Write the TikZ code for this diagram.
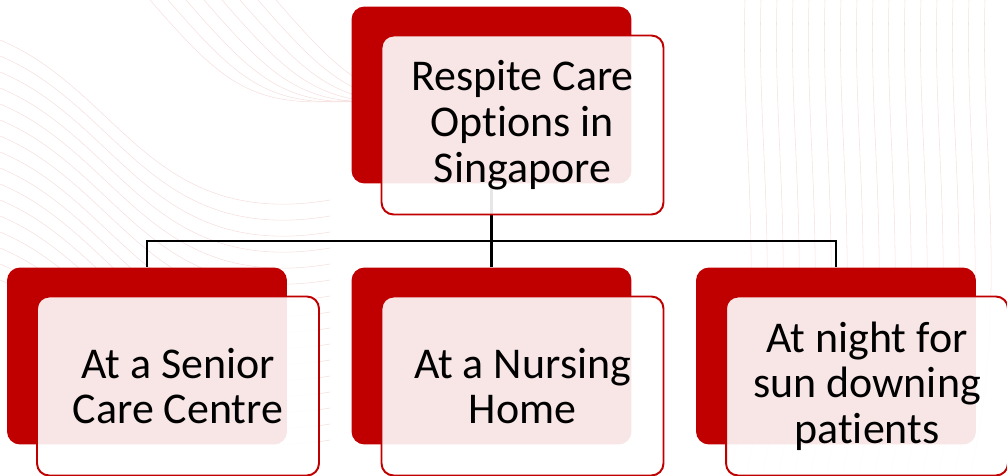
\documentclass[tikz,border=0pt]{standalone}
\usepackage{fontspec}
\setmainfont{Carlito}[Ligatures=NoCommon]
\usepackage{tikz}
\usetikzlibrary{positioning}

\definecolor{darkred}{HTML}{C00000}
\definecolor{contour}{HTML}{F6DEDE}

\tikzset{
	backbox/.style={rectangle, rounded corners=0.26cm, fill=darkred,
		minimum width=5.6cm, minimum height=3.54cm, inner sep=0pt},
	frontbox/.style={rectangle, rounded corners=0.24cm, draw=darkred, line width=1.1pt,
		fill=white, fill opacity=0.9, text opacity=1,
		minimum width=5.64cm, minimum height=3.58cm, inner sep=0pt, align=center,
		font=\fontsize{25}{26}\selectfont},
	link/.style={line width=1.4pt},
	wave/.style={contour, line width=0.3pt}
}

\begin{document}
\begin{tikzpicture}[x=0.02cm, y=-0.02cm]
			\useasboundingbox (0,0) rectangle (1007,476);
			
			% faint contour lines in the background
			\foreach \d in {0,16,...,240}
				\draw[wave] (0,40+\d) .. controls (120,90+\d) and (150,230+\d) .. (330,200+\d);
			\foreach \d in {0,18,...,140}
				\draw[wave] (150+\d,0) .. controls (220+\d,80) and (250+\d,110) .. (350+\d,100);
			\foreach \d in {0,16,...,240}
				\draw[wave] (745+\d,0) .. controls (740+\d,150) and (770+\d,300) .. (730+\d,476);
			
			
			\node[backbox] (root) at (491.5,95) {};
			
			\node[backbox] (senior) at (147,356) {};
			\node[backbox] (nursing) at (491.5,356) {};
			\node[backbox] (night) at (836,356) {};
			
			
			\coordinate (bus) at (491.5,241);
			\draw[link] (root.south) -- (bus);
			\draw[link] (bus) -| (senior.north);
			\draw[link] (bus) -- (nursing.north);
			\draw[link] (bus) -| (night.north);
			
			
			\node[frontbox] (rootlbl) at (522.5,125) {Respite Care\\Options in\\Singapore};
			
			\node[frontbox] (seniorlbl) at (178,386) {At a Senior\\Care Centre};
			\node[frontbox] (nursinglbl) at (522.5,386) {At a Nursing\\Home};
			\node[frontbox] (nightlbl) at (867,386) {At night for\\sun downing\\patients};
			
\end{tikzpicture}
\end{document}
